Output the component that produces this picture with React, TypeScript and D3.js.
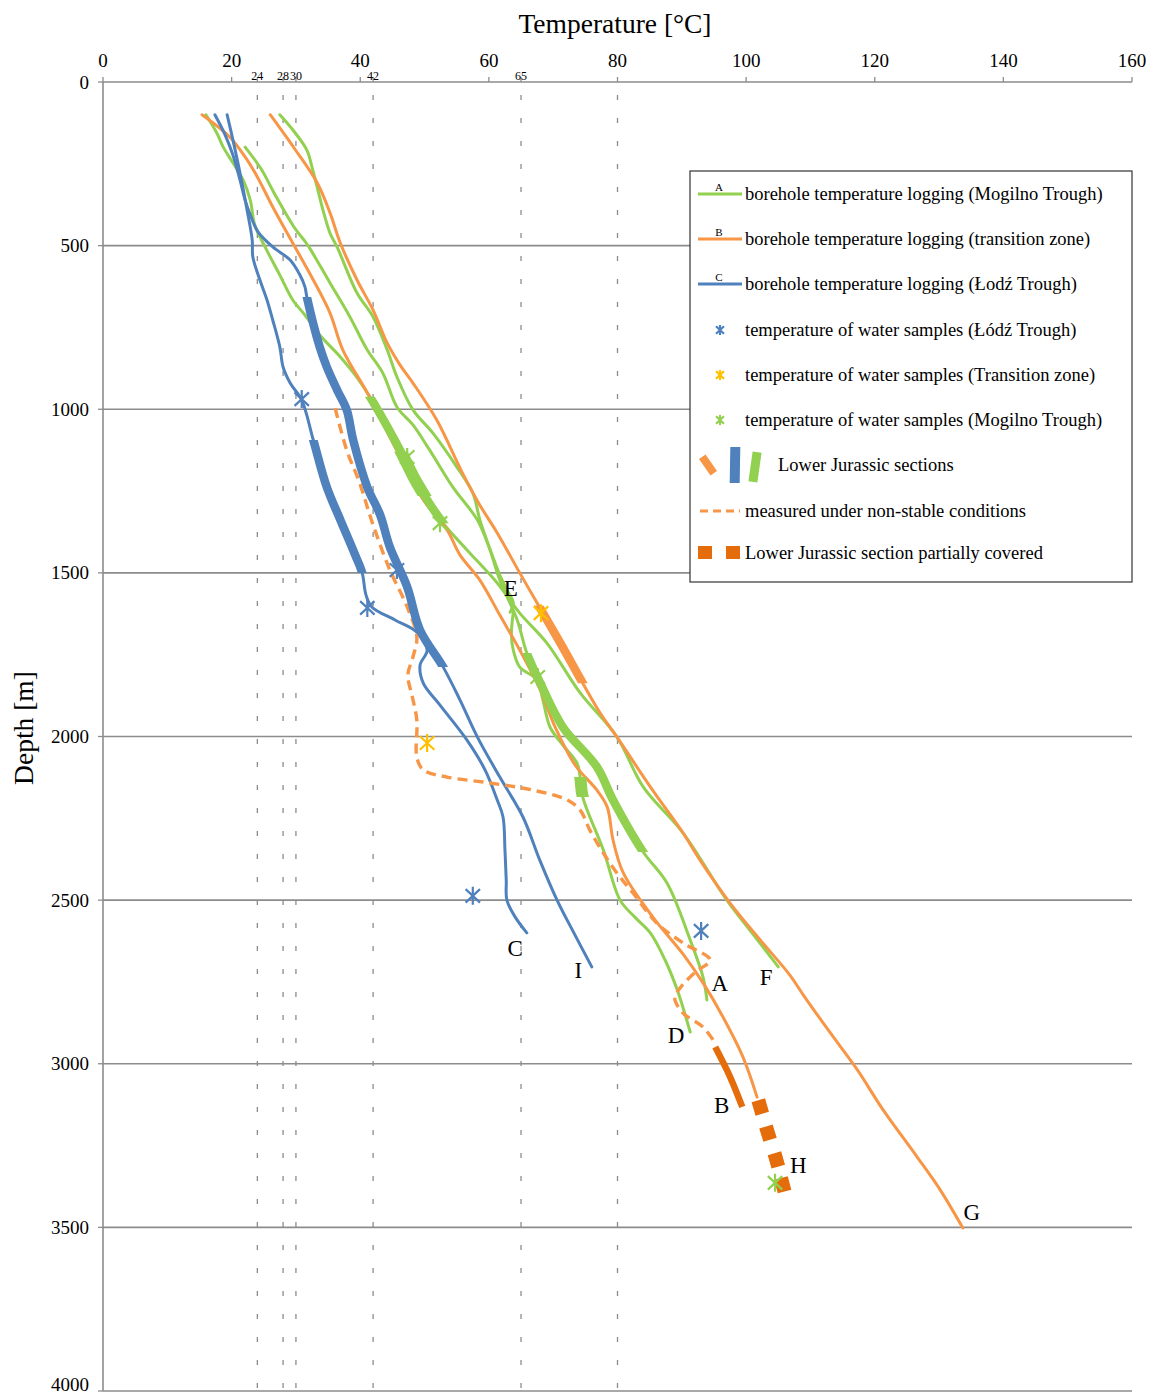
import React from "react";
import * as d3 from "d3";

type P = [number, number]; // [temperature °C, depth m]

const tempTicks = [0, 20, 40, 60, 80, 100, 120, 140, 160];
const refTemps = [24, 28, 30, 42, 65, 80];
const refLabels = [24, 28, 30, 42, 65];
const depthTicks = [0, 500, 1000, 1500, 2000, 2500, 3000, 3500, 4000];

// borehole temperature logging (Mogilno Trough) – green
const mogilnoF: P[] = [
  [16.0, 100], [17.7, 156], [18.7, 199], [20.2, 247], [21.8, 300], [22.9, 361], [23.6, 437],
  [25.2, 504], [27.5, 590], [29.5, 666], [31.4, 712], [33.7, 773], [36.9, 840], [39.2, 895],
  [41.5, 962], [46.2, 1125], [48.8, 1225], [52.9, 1348], [56.6, 1430], [61.3, 1531],
  [64.8, 1623], [69.0, 1714], [74.2, 1867], [79.9, 2001], [84.0, 2154], [90.2, 2295],
  [97.0, 2500], [100.6, 2592], [105.0, 2704],
];
const mogilnoE: P[] = [
  [22.1, 199], [24.6, 266], [26.6, 339], [29.7, 443], [31.6, 492], [32.3, 513], [35.3, 614],
  [38.4, 718], [41.1, 819], [43.5, 889], [45.7, 993], [48.2, 1048], [50.8, 1125], [54.4, 1238],
  [58.2, 1338], [60.2, 1430], [61.7, 1507], [62.8, 1552], [63.8, 1592], [63.3, 1620],
];
const mogilnoA: P[] = [
  [27.5, 100], [29.5, 146], [31.7, 208], [32.5, 260], [33.3, 321], [34.2, 391], [35.3, 462],
  [36.4, 504], [39.5, 645], [42.0, 718], [44.2, 819], [45.7, 901], [48.2, 1002], [51.3, 1073],
  [55.0, 1176], [57.5, 1256], [58.6, 1338], [60.2, 1430], [61.7, 1522], [64.4, 1644],
  [65.9, 1745], [68.0, 1837], [71.5, 1971], [76.8, 2093], [79.3, 2194], [84.0, 2353],
  [87.7, 2448], [91.3, 2622], [93.3, 2735], [93.9, 2805],
];
const mogilnoD: P[] = [
  [63.8, 1620], [63.5, 1690], [63.8, 1736], [64.8, 1788], [67.5, 1827], [68.4, 1888],
  [69.5, 1971], [71.5, 2026], [73.7, 2081], [74.2, 2124], [74.6, 2185], [77.8, 2347],
  [80.4, 2500], [82.7, 2552], [85.1, 2600], [87.4, 2683], [89.3, 2775], [91.3, 2903],
];

// borehole temperature logging (transition zone) – orange
const transitionG: P[] = [
  [26.0, 100], [29.9, 207], [33.3, 308], [35.3, 400], [36.9, 492], [39.5, 605], [42.0, 697],
  [44.2, 798], [46.2, 865], [48.2, 920], [51.9, 1033], [55.9, 1195], [58.6, 1293],
  [61.3, 1378], [64.8, 1500], [67.5, 1592], [71.1, 1714], [74.6, 1837], [77.3, 1928],
  [79.9, 2001], [85.1, 2154], [90.2, 2295], [92.8, 2377], [97.5, 2509], [102.2, 2622],
  [106.8, 2729], [108.9, 2790], [113.1, 2906], [117.3, 3019], [121.3, 3141], [126.6, 3285],
  [130.2, 3386], [133.7, 3502],
];
const transitionH: P[] = [
  [15.4, 100], [19.7, 168], [22.1, 229], [24.0, 290], [26.4, 382], [29.5, 492], [32.7, 605],
  [35.3, 706], [37.3, 819], [41.1, 950], [43.5, 1042], [46.2, 1146], [49.8, 1277],
  [53.5, 1369], [55.5, 1445], [58.6, 1522], [61.7, 1629], [64.8, 1736], [68.0, 1858],
  [70.3, 1971], [73.4, 2087], [76.8, 2164], [78.4, 2215], [79.3, 2316], [80.9, 2417],
  [85.5, 2552], [90.2, 2665], [93.3, 2753], [96.4, 2857], [99.5, 2979], [101.7, 3102],
];
const transitionHCovered: P[] = [[102.2, 3132], [103.4, 3212], [104.7, 3294], [105.7, 3370]];
const transitionBUnstable: P[] = [
  [36.1, 997], [37.9, 1125], [39.9, 1225], [41.9, 1348], [44.6, 1491], [47.3, 1604],
  [48.8, 1696], [48.2, 1757], [47.4, 1812], [48.1, 1879], [48.8, 1950], [48.8, 2063],
  [49.8, 2102], [53.5, 2124], [60.2, 2142], [66.9, 2164], [72.2, 2194], [74.2, 2225],
  [75.7, 2286], [77.8, 2356], [79.9, 2417], [82.4, 2478], [86.1, 2570], [90.2, 2631],
  [94.4, 2683], [92.1, 2720], [89.7, 2769], [88.9, 2799], [90.2, 2845], [93.3, 2888],
  [95.2, 2937],
];
const transitionBJurassic: P[] = [[95.2, 2949], [97.5, 3040], [99.4, 3132]];

// borehole temperature logging (Łódź Trough) – blue
const lodzC: P[] = [
  [19.3, 100], [20.2, 177], [21.3, 278], [22.4, 391], [23.2, 483], [23.3, 535], [24.4, 605],
  [25.5, 666], [26.4, 728], [27.5, 810], [28.0, 871], [29.1, 920], [30.9, 972], [32.7, 1094],
  [34.8, 1238], [36.9, 1338], [39.2, 1445], [40.3, 1500], [40.9, 1568], [41.8, 1604],
  [45.4, 1644], [48.8, 1681], [50.4, 1736], [49.3, 1782], [49.8, 1837], [52.4, 1904],
  [56.6, 2011], [59.4, 2102], [61.3, 2194], [62.2, 2246], [62.5, 2347], [62.7, 2439],
  [62.8, 2500], [64.1, 2552], [65.9, 2600],
];
const lodzI: P[] = [
  [17.4, 100], [19.0, 162], [20.2, 223], [21.3, 299], [22.1, 361], [22.9, 406], [24.1, 458],
  [26.4, 504], [29.1, 544], [30.6, 589], [31.4, 626], [31.7, 657], [33.7, 810], [34.8, 871],
  [36.4, 941], [37.9, 1002], [38.9, 1094], [41.1, 1238], [43.1, 1323], [44.6, 1421],
  [47.3, 1543], [49.3, 1675], [52.9, 1788], [55.5, 1888], [58.2, 2001], [61.7, 2124],
  [65.3, 2246], [67.9, 2377], [70.6, 2500], [73.4, 2607], [76.0, 2704],
];

// Lower Jurassic sections: series, top depth, bottom depth, wider part or not
const jurassicSeries = ["lodzC", "lodzI", "mogilnoF", "mogilnoF", "mogilnoA", "mogilnoD", "transitionG"];
const jurassicTop = [1094, 657, 962, 1130, 1745, 2124, 1600];
const jurassicBottom = [1500, 1788, 1348, 1265, 2353, 2185, 1837];
const jurassicWide = [false, false, false, true, false, true, false];

// temperature of water samples
const samplesLodz: P[] = [[30.9, 969], [45.7, 1491], [41.1, 1607], [57.5, 2487], [93.0, 2594]];
const samplesTransition: P[] = [[68.1, 1623], [50.4, 2020]];
const samplesMogilno: P[] = [[47.3, 1146], [52.4, 1348], [67.6, 1818], [104.5, 3364]];

const boreholeNames = ["A", "B", "C", "D", "E", "F", "G", "H", "I"];
const nameTemps = [95.9, 96.2, 64.1, 89.1, 63.4, 103.1, 135.1, 108.1, 73.9];
const nameDepths = [2753, 3126, 2646, 2912, 1546, 2735, 3454, 3309, 2714];

const legendLabels = [
  "borehole temperature logging (Mogilno Trough)",
  "borehole temperature logging (transition zone)",
  "borehole temperature logging (Łodź Trough)",
  "temperature of water samples (Łódź Trough)",
  "temperature of water samples (Transition zone)",
  "temperature of water samples (Mogilno Trough)",
  "Lower Jurassic sections",
  "measured under non-stable conditions",
  "Lower Jurassic section partially covered",
];

const GREEN = "#92D050";
const ORANGE = "#F79646";
const DARK_ORANGE = "#E46C0A";
const BLUE = "#4F81BD";
const YELLOW = "#FFC000";
const GRID = "#8C8C8C";
const FONT = "'Liberation Serif', 'Times New Roman', serif";

const seriesMap: Record<string, { pts: P[]; color: string }> = {
  lodzC: { pts: lodzC, color: BLUE },
  lodzI: { pts: lodzI, color: BLUE },
  mogilnoF: { pts: mogilnoF, color: GREEN },
  mogilnoE: { pts: mogilnoE, color: GREEN },
  mogilnoA: { pts: mogilnoA, color: GREEN },
  mogilnoD: { pts: mogilnoD, color: GREEN },
  transitionG: { pts: transitionG, color: ORANGE },
  transitionH: { pts: transitionH, color: ORANGE },
};

const W = 1151;
const H = 1398;

const x = d3.scaleLinear().domain([0, 160]).range([103, 1132]);
const y = d3.scaleLinear().domain([0, 4000]).range([82, 1391]);
const line = d3
  .line<P>()
  .x((d) => x(d[0]))
  .y((d) => y(d[1]))
  .curve(d3.curveCatmullRom.alpha(0.5));

const Star = ({ cx, cy, color, r = 9 }: { cx: number; cy: number; color: string; r?: number }) => (
  <path
    d={`M${cx - r * 0.8},${cy - r * 0.75}L${cx + r * 0.8},${cy + r * 0.75}M${cx - r * 0.8},${cy + r * 0.75}L${cx + r * 0.8},${cy - r * 0.75}M${cx},${cy - r}L${cx},${cy + r}`}
    stroke={color}
    strokeWidth={2.2}
    fill="none"
  />
);

const Square = ({ cx, cy, angle, color }: { cx: number; cy: number; angle: number; color: string }) => (
  <rect x={-7} y={-7} width={14} height={14} fill={color} transform={`translate(${cx},${cy}) rotate(${angle})`} />
);

export default function App() {
  const thin = ["mogilnoF", "mogilnoE", "mogilnoA", "mogilnoD", "transitionG", "transitionH", "lodzC", "lodzI"];
  const legendY = [194, 239, 284, 330, 375, 420, 465, 511, 553];

  return (
    <svg width={W} height={H} style={{ position: "absolute", left: 0, top: 0, background: "#fff" }} fontFamily={FONT}>
      <defs>
        {jurassicSeries.map((s, i) => (
          <clipPath id={`jur${i}`} key={i}>
            <rect x={0} width={W} y={y(jurassicTop[i])} height={y(jurassicBottom[i]) - y(jurassicTop[i])} />
          </clipPath>
        ))}
      </defs>

      {/* titles */}
      <text x={615} y={33} fontSize={27.5} textAnchor="middle">Temperature [°C]</text>
      <text transform={`translate(33,${728}) rotate(-90)`} fontSize={27.5} textAnchor="middle">Depth [m]</text>

      {/* grid */}
      {depthTicks.slice(1).map((d) => (
        <line key={d} x1={x(0)} x2={x(160)} y1={y(d)} y2={y(d)} stroke={GRID} strokeWidth={1.6} />
      ))}
      {refTemps.map((t) => (
        <line key={t} x1={x(t)} x2={x(t)} y1={95} y2={y(4000)} stroke={GRID} strokeWidth={1.3} strokeDasharray="5 18" />
      ))}
      {/* axes */}
      <line x1={x(0)} x2={x(160)} y1={y(0)} y2={y(0)} stroke={GRID} strokeWidth={1.6} />
      <line x1={x(0)} x2={x(0)} y1={y(0)} y2={y(4000)} stroke={GRID} strokeWidth={1.6} />
      {tempTicks.map((t) => (
        <g key={t}>
          <line x1={x(t)} x2={x(t)} y1={y(0) - 5} y2={y(0)} stroke={GRID} strokeWidth={1.3} />
          <text x={x(t)} y={67} fontSize={19} textAnchor="middle">{t}</text>
        </g>
      ))}
      {refLabels.map((t) => (
        <g key={t}>
          <line x1={x(t)} x2={x(t)} y1={y(0) - 5} y2={y(0)} stroke={GRID} strokeWidth={1.3} />
          <text x={x(t)} y={80} fontSize={12} textAnchor="middle">{t}</text>
        </g>
      ))}
      {depthTicks.map((d) => (
        <g key={d}>
          <line x1={x(0) - 5} x2={x(0)} y1={y(d)} y2={y(d)} stroke={GRID} strokeWidth={1.3} />
          <text x={89} y={Math.min(y(d) + 6.5, 1391)} fontSize={19} textAnchor="end">{d}</text>
        </g>
      ))}

      {/* thin logging curves */}
      {thin.map((k) => (
        <path key={k} d={line(seriesMap[k].pts) || ""} fill="none" stroke={seriesMap[k].color} strokeWidth={3} strokeLinecap="round" />
      ))}
      <path d={line(transitionBUnstable) || ""} fill="none" stroke={ORANGE} strokeWidth={3.4} strokeDasharray="10 6" />

      {/* Lower Jurassic sections */}
      {jurassicSeries.map((s, i) => (
        <path
          key={i}
          d={line(seriesMap[s].pts) || ""}
          fill="none"
          stroke={seriesMap[s].color}
          strokeWidth={jurassicWide[i] ? 12 : 8.5}
          clipPath={`url(#jur${i})`}
        />
      ))}
      <path d={line(transitionBJurassic) || ""} fill="none" stroke={DARK_ORANGE} strokeWidth={6.5} />
      {transitionHCovered.map((p, i) => {
        const q = transitionHCovered[Math.min(i + 1, transitionHCovered.length - 1)];
        const r = transitionHCovered[Math.max(i - 1, 0)];
        const ang = (Math.atan2(y(q[1]) - y(r[1]), x(q[0]) - x(r[0])) * 180) / Math.PI - 90;
        return <Square key={i} cx={x(p[0])} cy={y(p[1])} angle={ang} color={DARK_ORANGE} />;
      })}

      {/* water samples */}
      {samplesLodz.map((p, i) => <Star key={"l" + i} cx={x(p[0])} cy={y(p[1])} color={BLUE} />)}
      {samplesTransition.map((p, i) => <Star key={"t" + i} cx={x(p[0])} cy={y(p[1])} color={YELLOW} />)}
      {samplesMogilno.map((p, i) => <Star key={"m" + i} cx={x(p[0])} cy={y(p[1])} color={GREEN} />)}

      {/* borehole names */}
      {boreholeNames.map((n, i) => (
        <text key={n} x={x(nameTemps[i])} y={y(nameDepths[i]) + 8} fontSize={23} textAnchor="middle">{n}</text>
      ))}

      {/* legend */}
      <g>
        <rect x={690} y={171} width={442} height={411} fill="#fff" stroke="#333" strokeWidth={1.2} />
        {[GREEN, ORANGE, BLUE].map((c, i) => (
          <g key={i}>
            <line x1={698} x2={742} y1={legendY[i]} y2={legendY[i]} stroke={c} strokeWidth={3} />
            <text x={719} y={legendY[i] - 3} fontSize={11} textAnchor="middle">{["A", "B", "C"][i]}</text>
          </g>
        ))}
        {[BLUE, YELLOW, GREEN].map((c, i) => (
          <Star key={i} cx={720} cy={legendY[3 + i]} color={c} r={5} />
        ))}
        <rect x={-4} y={-10} width={8} height={20} fill={ORANGE} transform={`translate(708,${legendY[6]}) rotate(-35)`} />
        <rect x={-5} y={-18} width={10} height={36} fill={BLUE} transform={`translate(735,${legendY[6]}) rotate(1)`} />
        <rect x={-4.5} y={-15} width={9} height={30} fill={GREEN} transform={`translate(755,${legendY[6] + 2}) rotate(8)`} />
        <line x1={700} x2={740} y1={legendY[7]} y2={legendY[7]} stroke={ORANGE} strokeWidth={3} strokeDasharray="8 5" />
        <rect x={698} y={legendY[8] - 7} width={14} height={13} fill={DARK_ORANGE} />
        <rect x={726} y={legendY[8] - 7} width={14} height={13} fill={DARK_ORANGE} />
        {legendLabels.map((t, i) => (
          <text key={i} x={i === 6 ? 778 : 745} y={legendY[i] + 6} fontSize={18.5}>{t}</text>
        ))}
      </g>
    </svg>
  );
}
